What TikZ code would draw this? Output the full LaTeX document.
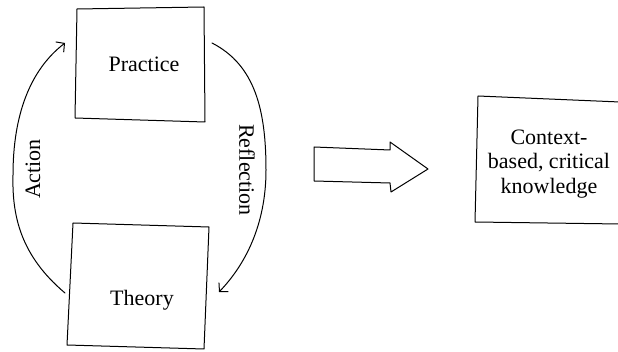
\documentclass[tikz,border=0pt]{standalone}
\usepackage{fontspec}
\setmainfont{Liberation Serif}
\usetikzlibrary{arrows.meta}
\begin{document}
\begin{tikzpicture}[x=1pt,y=-1pt,
  sketch/.style={line width=1pt, black, line join=round, line cap=round},
  conn/.style={sketch, -{Straight Barb[length=6pt,width=13pt,line width=1pt]}},
  label/.style={font=\fontsize{22}{24.5}\selectfont, inner sep=0pt, align=center}]
\useasboundingbox (0,0) rectangle (618,352);

% hand-drawn box corners
\coordinate (p1) at (77,9);   \coordinate (p2) at (204,7);
\coordinate (p3) at (205,122); \coordinate (p4) at (75,118);
\coordinate (t1) at (73,223);  \coordinate (t2) at (209,227);
\coordinate (t3) at (204,349); \coordinate (t4) at (67,345);
\coordinate (k1) at (478,96);  \coordinate (k2) at (620,102);
\coordinate (k3) at (620,224); \coordinate (k4) at (475,222);

\draw[sketch] (p1) -- (p2) -- (p3) -- (p4) -- cycle;
\draw[sketch] (t1) -- (t2) -- (t3) -- (t4) -- cycle;
\draw[sketch] (k2) -- (k1) -- (k4) -- (k3);

\node[label] (practice) at (144,64) {Practice};
\node[label] (theory) at (142,300) {Theory};
\node[label] (ctx) at (549,164) {Context-\\based, critical\\knowledge};

% ends of the two curved connectors
\coordinate (actFrom) at (65,293);
\coordinate (actTo) at (65,43);
\coordinate (refFrom) at (212,43);
\coordinate (refTo) at (219,292);

\draw[conn] (actFrom) .. controls (20,255) and (12,215) .. (13,175)
  .. controls (13,115) and (30,70) .. (actTo);
\draw[conn] (refFrom) .. controls (255,65) and (266,110) .. (266,170)
  .. controls (266,225) and (245,265) .. (refTo);

\node[label, rotate=90] (action) at (33,169) {Action};
\node[label, rotate=-90] (reflection) at (247,170) {Reflection};

% block arrow towards the outcome
\draw[sketch] (314,147) -- (390,150) -- (390,142) -- (428,169)
  -- (391,192) -- (390,183) -- (314,181) -- cycle;
\end{tikzpicture}
\end{document}
